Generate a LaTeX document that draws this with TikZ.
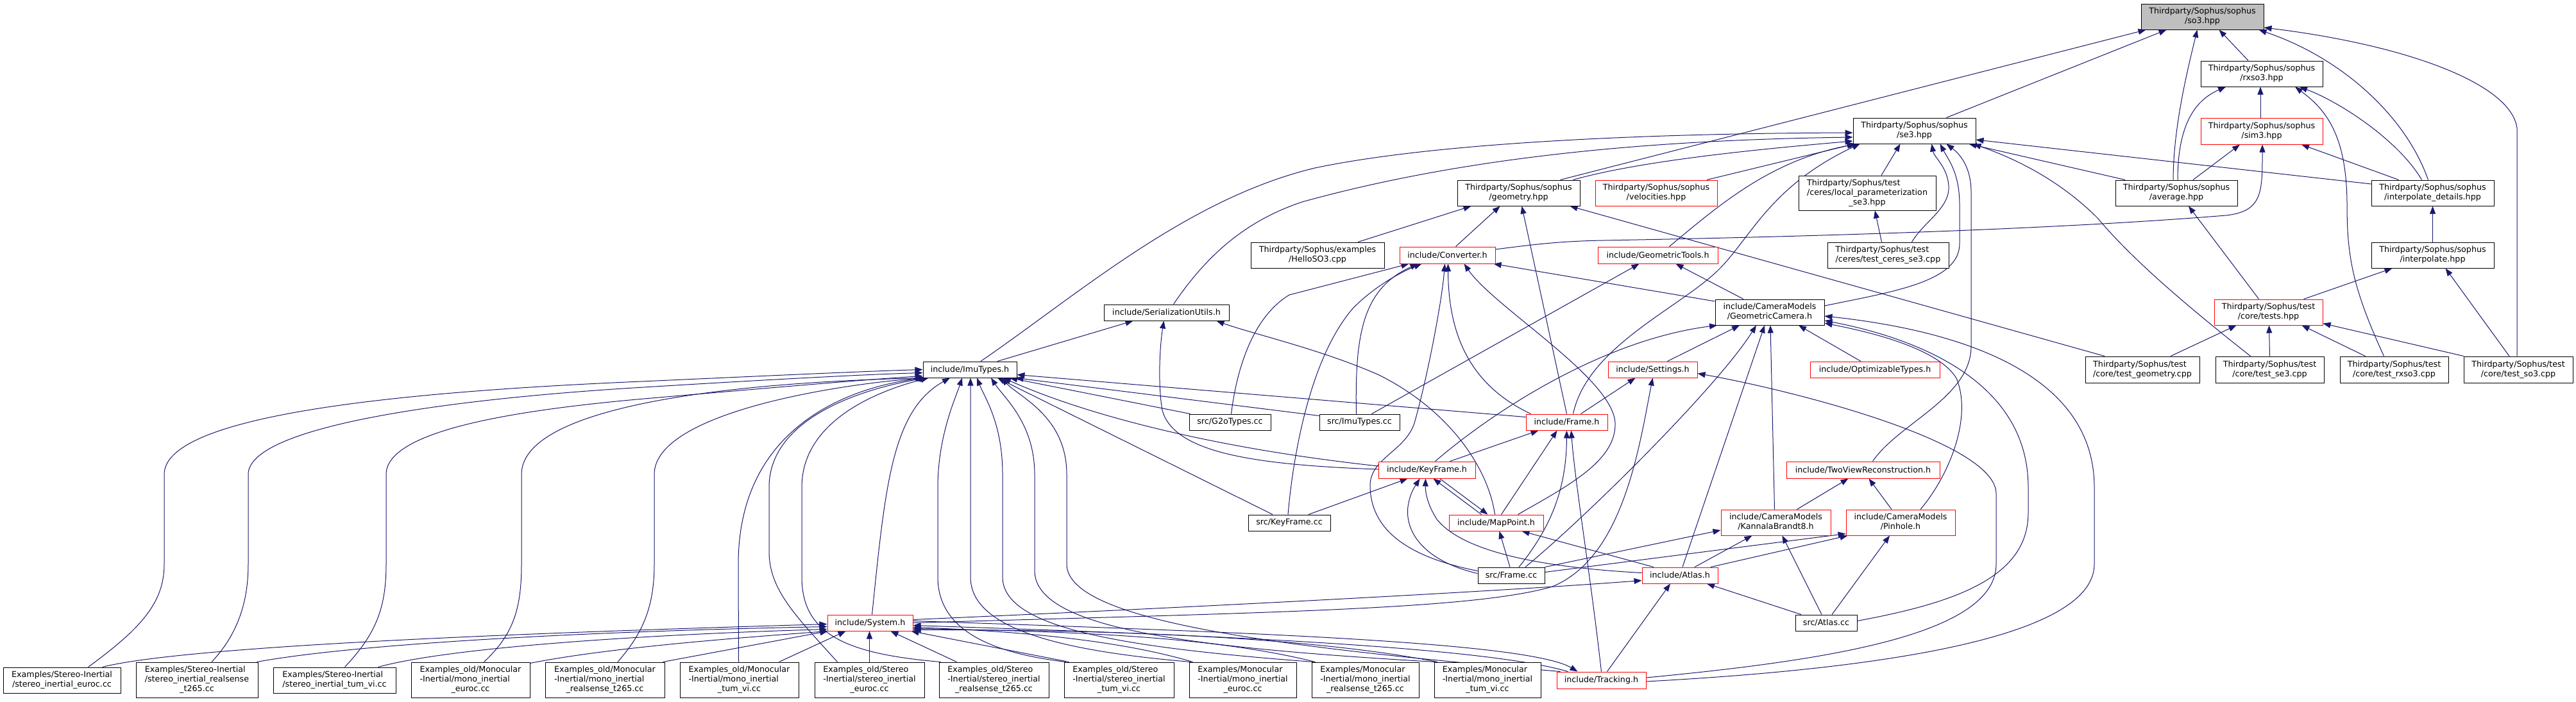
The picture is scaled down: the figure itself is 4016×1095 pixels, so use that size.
\documentclass[tikz,border=0pt]{standalone}
\usepackage{fontspec}
\setmainfont{DejaVu Sans}
\usetikzlibrary{arrows.meta,calc}
\pgfdeclarelayer{bg}
\pgfsetlayers{bg,main}
\definecolor{edgec}{HTML}{191970}
\newcommand\twol[2]{\begin{tabular}{@{}l@{}}#1\\\multicolumn{1}{@{}c@{}}{#2}\end{tabular}}
\newcommand\threel[3]{\begin{tabular}{@{}l@{}}#1\\#2\\\multicolumn{1}{@{}c@{}}{#3}\end{tabular}}
\newcommand\mknode[6]{\node[#1,minimum width=#2pt,minimum height=#3pt] (#4) at (#5) {#6};}
\tikzset{
 nd/.style={draw=black, line width=1pt, fill=white, inner sep=0pt, font=\fontsize{12.7}{15}\selectfont},
 rd/.style={nd, draw=red},
 gr/.style={nd, fill=black!25},
 e/.style={draw=edgec, line width=1pt, -{Triangle[length=12pt,width=9pt]}},
}
\begin{document}
\begin{tikzpicture}[x=1pt,y=-1pt]
\useasboundingbox (0,0) rectangle (4016,1095);
% ---------- nodes ----------
\mknode{gr}{191}{40}{so3}{3433.5,26}{\twol{Thirdparty/Sophus/sophus}{/so3.hpp}}
\mknode{nd}{190}{40}{rxso3}{3526,115}{\twol{Thirdparty/Sophus/sophus}{/rxso3.hpp}}
\mknode{rd}{190}{41}{sim3}{3526,204.5}{\twol{Thirdparty/Sophus/sophus}{/sim3.hpp}}
\mknode{nd}{191}{40}{se3}{2984.5,204}{\twol{Thirdparty/Sophus/sophus}{/se3.hpp}}
\mknode{nd}{191}{40}{geometry}{2367.5,301}{\twol{Thirdparty/Sophus/sophus}{/geometry.hpp}}
\mknode{rd}{190}{40}{velocities}{2582,301}{\twol{Thirdparty/Sophus/sophus}{/velocities.hpp}}
\mknode{nd}{214}{54}{localparam}{2911,301}{\threel{Thirdparty/Sophus/test}{/ceres/local\_parameterization}{\_se3.hpp}}
\mknode{nd}{190}{40}{average}{3393,301}{\twol{Thirdparty/Sophus/sophus}{/average.hpp}}
\mknode{nd}{191}{40}{interpdet}{3792.5,301}{\twol{Thirdparty/Sophus/sophus}{/interpolate\_details.hpp}}
\mknode{nd}{191}{40}{interp}{3792.5,398}{\twol{Thirdparty/Sophus/sophus}{/interpolate.hpp}}
\mknode{rd}{169}{40}{tests}{3536.5,487}{\twol{Thirdparty/Sophus/test}{/core/tests.hpp}}
\mknode{nd}{178}{41}{testgeom}{3340,576.5}{\twol{Thirdparty/Sophus/test}{/core/test\_geometry.cpp}}
\mknode{nd}{169}{41}{testse3}{3538.5,576.5}{\twol{Thirdparty/Sophus/test}{/core/test\_se3.cpp}}
\mknode{nd}{169}{41}{testrxso3}{3732.5,576.5}{\twol{Thirdparty/Sophus/test}{/core/test\_rxso3.cpp}}
\mknode{nd}{170}{41}{testso3}{3926,576.5}{\twol{Thirdparty/Sophus/test}{/core/test\_so3.cpp}}
\mknode{nd}{189}{40}{cerestest}{2943.5,398}{\twol{Thirdparty/Sophus/test}{/ceres/test\_ceres\_se3.cpp}}
\mknode{nd}{208}{40}{hello}{2054,398}{\twol{Thirdparty/Sophus/examples}{/HelloSO3.cpp}}
\mknode{rd}{149}{26}{converter}{2256.5,398}{include/Converter.h}
\mknode{rd}{187}{26}{geomtools}{2584.5,398}{include/GeometricTools.h}
\mknode{nd}{170}{40}{geocam}{2759,487}{\twol{include/CameraModels}{/GeometricCamera.h}}
\mknode{rd}{139}{25}{settings}{2576.5,576.5}{include/Settings.h}
\mknode{rd}{202}{25}{opttypes}{2923,576.5}{include/OptimizableTypes.h}
\mknode{nd}{195}{25}{serial}{1818.5,487.5}{include/SerializationUtils.h}
\mknode{nd}{146}{25}{imutypes}{1512,576.5}{include/ImuTypes.h}
\mknode{nd}{127}{25}{g2o}{1917.5,658.5}{src/G2oTypes.cc}
\mknode{nd}{125}{25}{imucc}{2119.5,658.5}{src/ImuTypes.cc}
\mknode{rd}{127}{25}{frameh}{2442.5,658.5}{include/Frame.h}
\mknode{rd}{151}{26}{keyframeh}{2224.5,733}{include/KeyFrame.h}
\mknode{rd}{239}{26}{twoview}{2904.5,733}{include/TwoViewReconstruction.h}
\mknode{nd}{128}{25}{kfcc}{2010,815.5}{src/KeyFrame.cc}
\mknode{rd}{147}{25}{mappoint}{2332.5,815.5}{include/MapPoint.h}
\mknode{rd}{171}{40}{kb8}{2768.5,815}{\twol{include/CameraModels}{/KannalaBrandt8.h}}
\mknode{rd}{170}{40}{pinhole}{2963,815}{\twol{include/CameraModels}{/Pinhole.h}}
\mknode{nd}{104}{25}{framecc}{2356,897.5}{src/Frame.cc}
\mknode{rd}{118}{25}{atlash}{2619,897.5}{include/Atlas.h}
\mknode{nd}{96}{25}{atlascc}{2847,971.5}{src/Atlas.cc}
\mknode{rd}{133}{25}{system}{1356.5,971.5}{include/System.h}
\mknode{rd}{139}{26}{tracking}{2496.5,1061}{include/Tracking.h}
\mknode{nd}{183}{40}{ex1}{96.5,1061}{\twol{Examples/Stereo-Inertial}{/stereo\_inertial\_euroc.cc}}
\mknode{nd}{190}{55}{ex2}{307,1060.5}{\threel{Examples/Stereo-Inertial}{/stereo\_inertial\_realsense}{\_t265.cc}}
\mknode{nd}{191}{40}{ex3}{521.5,1061}{\twol{Examples/Stereo-Inertial}{/stereo\_inertial\_tum\_vi.cc}}
\mknode{nd}{185}{55}{ex4}{733.5,1060.5}{\threel{Examples\_old/Monocular}{-Inertial/mono\_inertial}{\_euroc.cc}}
\mknode{nd}{186}{55}{ex5}{943,1060.5}{\threel{Examples\_old/Monocular}{-Inertial/mono\_inertial}{\_realsense\_t265.cc}}
\mknode{nd}{185}{55}{ex6}{1152.5,1060.5}{\threel{Examples\_old/Monocular}{-Inertial/mono\_inertial}{\_tum\_vi.cc}}
\mknode{nd}{171}{55}{ex7}{1355.5,1060.5}{\threel{Examples\_old/Stereo}{-Inertial/stereo\_inertial}{\_euroc.cc}}
\mknode{nd}{171}{55}{ex8}{1549.5,1060.5}{\threel{Examples\_old/Stereo}{-Inertial/stereo\_inertial}{\_realsense\_t265.cc}}
\mknode{nd}{171}{55}{ex9}{1744.5,1060.5}{\threel{Examples\_old/Stereo}{-Inertial/stereo\_inertial}{\_tum\_vi.cc}}
\mknode{nd}{167}{55}{ex10}{1937.5,1060.5}{\threel{Examples/Monocular}{-Inertial/mono\_inertial}{\_euroc.cc}}
\mknode{nd}{167}{55}{ex11}{2128.5,1060.5}{\threel{Examples/Monocular}{-Inertial/mono\_inertial}{\_realsense\_t265.cc}}
\mknode{nd}{166}{55}{ex12}{2319,1060.5}{\threel{Examples/Monocular}{-Inertial/mono\_inertial}{\_tum\_vi.cc}}
% ---------- edges ----------
\begin{pgfonlayer}{bg}
\fill[white] (0,0) rectangle (4016,1095);
% so3
\draw[e] ($(geometry.north)+(65,0)$) -- ($(so3.south)+(-88,0)$);
\draw[e] ($(se3.north)+(50,0)$) -- ($(so3.south)+(-56,0)$);
\draw[e] ($(average.north)+(-5,0)$) .. controls (3388,200) and (3410,110) .. ($(so3.south)+(-8,0)$);
\draw[e] ($(rxso3.north)+(-21,0)$) -- ($(so3.south)+(26,0)$);
\draw[e] ($(interpdet.north)+(-7,0)$) .. controls (3750,180) and (3650,90) .. ($(so3.south)+(88,0)$);
\draw[e] ($(testso3.north)+(-2,0)$) -- (3924,200) .. controls (3915,130) and (3750,70) .. ($(so3.east)+(0,17)$);
% rxso3
\draw[e] ($(average.north)+(2,0)$) .. controls (3395,190) and (3425,155) .. ($(rxso3.south)+(-56,0)$);
\draw[e] ($(sim3.north)+(-2,0)$) -- ($(rxso3.south)+(-2,0)$);
\draw[e] ($(testrxso3.north)+(-16,0)$) .. controls (3668,450) and (3659,400) .. (3659,320) .. controls (3659,210) and (3625,170) .. ($(rxso3.south)+(52,0)$);
\draw[e] ($(interpdet.north)+(-17,0)$) .. controls (3740,220) and (3650,160) .. ($(rxso3.south)+(59,0)$);
% sim3
\draw[e] ($(average.north)+(26,0)$) -- ($(sim3.south)+(-34,0)$);
\draw[e] ($(interpdet.north)+(-53,0)$) -- ($(sim3.south)+(62,0)$);
\draw[e] ($(converter.east)+(0,-9)$) .. controls (2400,380) and (2440,376) .. (2500,375) .. controls (3000,366) and (3300,350) .. (3470,336) .. controls (3527,330) and (3527,300) .. ($(sim3.south)+(1,0)$);
% se3
\draw[e] ($(imutypes.north)+(17,0)$) .. controls (1680,460) and (1850,310) .. (2050,262) .. controls (2250,220) and (2600,208) .. ($(se3.west)+(0,3)$);
\draw[e] ($(serial.north)+(11,0)$) .. controls (1880,400) and (1940,345) .. (2030,315) .. controls (2300,240) and (2600,218) .. ($(se3.west)+(0,10)$);
\draw[e] ($(geometry.north)+(85,0)$) .. controls (2560,250) and (2750,232) .. ($(se3.west)+(0,16)$);
\draw[e] ($(velocities.north)+(79,0)$) -- ($(se3.south)+(-93,0)$);
\draw[e] ($(geomtools.north)+(18,0)$) .. controls (2680,320) and (2760,250) .. ($(se3.south)+(-90,0)$);
\draw[e] ($(frameh.north)+(10,0)$) .. controls (2475,540) and (2620,480) .. (2680,420) .. controls (2730,370) and (2760,290) .. ($(se3.south)+(-85,0)$);
\draw[e] ($(localparam.north)+(22,0)$) -- ($(se3.south)+(-22,0)$);
\draw[e] ($(cerestest.north)+(37,0)$) .. controls (3000,345) and (3040,325) .. (3038,290) .. controls (3036,260) and (3015,245) .. ($(se3.south)+(27,0)$);
\draw[e] ($(geocam.east)+(0,-10)$) .. controls (2950,455) and (3055,440) .. (3055,380) -- (3055,320) .. controls (3055,270) and (3038,250) .. ($(se3.south)+(40,0)$);
\draw[e] ($(twoview.north)+(15,0)$) .. controls (2960,660) and (3073,620) .. (3073,540) -- (3073,300) .. controls (3073,260) and (3055,240) .. ($(se3.south)+(50,0)$);
\draw[e] ($(average.north)+(-80,0)$) -- ($(se3.south)+(85,0)$);
\draw[e] ($(testse3.north)+(-30,0)$) .. controls (3400,470) and (3320,400) .. (3270,340) .. controls (3200,270) and (3120,240) .. ($(se3.south)+(92,0)$);
\draw[e] ($(interpdet.west)+(0,-14)$) -- ($(se3.east)+(0,14)$);
% geometry
\draw[e] ($(hello.north)+(63,0)$) -- ($(geometry.south)+(-74,0)$);
\draw[e] ($(converter.north)+(13,0)$) -- ($(geometry.south)+(-29,0)$);
\draw[e] (frameh.north) -- ($(geometry.south)+(5,0)$);
\draw[e] ($(testgeom.north)+(-59,0)$) -- ($(geometry.south)+(80,0)$);
% converter
\draw[e] ($(geocam.west)+(0,-17)$) -- ($(converter.south)+(72,0)$);
\draw[e] ($(mappoint.north)+(34,0)$) .. controls (2440,760) and (2520,720) .. (2518,660) .. controls (2515,590) and (2330,480) .. ($(converter.south)+(26,0)$);
\draw[e] ($(frameh.north)+(-56,0)$) .. controls (2290,600) and (2258,520) .. ($(converter.south)+(1,0)$);
\draw[e] ($(framecc.west)+(0,-7)$) .. controls (2200,870) and (2138,830) .. (2136,760) .. controls (2134,715) and (2190,705) .. (2205,660) .. controls (2225,590) and (2248,470) .. ($(converter.south)+(-4,0)$);
\draw[e] ($(imucc.north)+(-5,0)$) .. controls (2112,520) and (2125,450) .. ($(converter.south)+(-46,0)$);
\draw[e] ($(kfcc.north)+(-2,0)$) .. controls (2015,720) and (2040,560) .. (2110,480) .. controls (2150,440) and (2195,420) .. ($(converter.south)+(-40,0)$);
\draw[e] ($(g2o.north)+(2,0)$) .. controls (1930,560) and (1960,490) .. (2010,460) -- ($(converter.south)+(-60,0)$);
% geomtools
\draw[e] ($(imucc.north)+(19,0)$) -- ($(geomtools.south)+(-29,0)$);
\draw[e] ($(geocam.north)+(-41,0)$) -- ($(geomtools.south)+(28,0)$);
% geocam
\draw[e] ($(settings.north)+(23,0)$) -- ($(geocam.south)+(-47,0)$);
\draw[e] ($(opttypes.north)+(-22,0)$) -- ($(geocam.south)+(45,0)$);
\draw[e] ($(keyframeh.north)+(13,0)$) .. controls (2330,640) and (2500,530) .. ($(geocam.south)+(-82,0)$);
\draw[e] ($(framecc.north)+(22,0)$) .. controls (2480,800) and (2680,600) .. ($(geocam.south)+(-21,0)$);
\draw[e] ($(atlash.north)+(4,0)$) -- ($(geocam.south)+(-8,0)$);
\draw[e] ($(kb8.north)+(-2,0)$) -- ($(geocam.south)+(1,0)$);
\draw[e] ($(tracking.east)+(0,2)$) .. controls (2900,1045) and (3265,1000) .. (3265,880) -- (3265,760) .. controls (3265,560) and (3000,510) .. ($(geocam.east)+(0,6)$);
\draw[e] ($(atlascc.east)+(0,-3)$) .. controls (3050,940) and (3162,900) .. (3162,800) -- (3162,760) .. controls (3162,600) and (3000,530) .. ($(geocam.east)+(0,13)$);
\draw[e] ($(pinhole.north)+(31,0)$) .. controls (3040,740) and (3075,650) .. (3050,590) .. controls (3020,540) and (2900,515) .. ($(geocam.east)+(0,17)$);
% settings
\draw[e] ($(frameh.north)+(22,0)$) -- ($(settings.south)+(-27,0)$);
\draw[e] (system.east) .. controls (2000,955) and (2300,950) .. (2420,915) .. controls (2530,870) and (2555,700) .. (settings.south);
\draw[e] ($(tracking.east)+(0,-4)$) .. controls (2850,1030) and (3112,990) .. (3112,880) -- (3112,770) .. controls (3112,690) and (2800,610) .. ($(settings.east)+(0,6)$);
% frame.h
\draw[e] ($(keyframeh.north)+(36,0)$) -- ($(frameh.south)+(-44,0)$);
\draw[e] ($(mappoint.north)+(8,0)$) -- ($(frameh.south)+(-15,0)$);
\draw[e] ($(framecc.north)+(12,0)$) .. controls (2420,820) and (2442,760) .. (frameh.south);
\draw[e] (tracking.north) .. controls (2480,900) and (2455,750) .. ($(frameh.south)+(7,0)$);
% keyframe.h
\draw[e] ($(kfcc.north)+(30,0)$) -- ($(keyframeh.south)+(-30,0)$);
\draw[e] ($(framecc.west)+(0,-3)$) .. controls (2220,875) and (2190,830) .. (2195,790) .. controls (2198,770) and (2205,760) .. ($(keyframeh.south)+(-11,0)$);
\draw[e] ($(atlash.west)+(0,-4)$) .. controls (2400,885) and (2280,860) .. (2240,810) .. controls (2224,785) and (2222,765) .. ($(keyframeh.south)+(-2,0)$);
\draw[e] ($(mappoint.north)+(-23,0)$) -- ($(keyframeh.south)+(10,0)$);
\draw[e] ($(keyframeh.south)+(20,0)$) -- ($(mappoint.north)+(-13,0)$);
% mappoint
\draw[e] ($(framecc.north)+(-2,0)$) -- ($(mappoint.south)+(5,0)$);
\draw[e] ($(atlash.north)+(-41,0)$) -- ($(mappoint.south)+(40,0)$);
\draw[e] ($(mappoint.north)+(-2,0)$) .. controls (2320,730) and (2260,640) .. (2150,585) .. controls (2060,545) and (1950,520) .. ($(serial.south)+(78,0)$);
% keyframe -> imutypes, serial
\draw[e] ($(keyframeh.west)+(0,-6)$) .. controls (1900,700) and (1700,650) .. ($(imutypes.south)+(52,0)$);
\draw[e] ($(keyframeh.west)+(0,-1)$) .. controls (1950,725) and (1830,705) .. (1812,640) .. controls (1805,600) and (1808,540) .. ($(serial.south)+(-4,0)$);
% imutypes from others
\draw[e] ($(frameh.west)+(0,-8)$) -- ($(imutypes.east)+(0,8)$);
\draw[e] ($(imucc.west)+(0,-10)$) -- ($(imutypes.south east)+(-2,0)$);
\draw[e] ($(g2o.north)+(-62,0)$) -- ($(imutypes.south)+(62,0)$);
\draw[e] ($(kfcc.north)+(-26,0)$) -- ($(imutypes.south)+(43,0)$);
\draw[e] ($(imutypes.north)+(43,0)$) -- ($(serial.south)+(-52,0)$);
% atlas
\draw[e] ($(system.east)+(0,-5)$) .. controls (1800,950) and (2300,925) .. ($(atlash.west)+(0,8)$);
\draw[e] ($(tracking.north)+(9,0)$) -- ($(atlash.south)+(-15,0)$);
\draw[e] ($(atlascc.north)+(-39,0)$) -- ($(atlash.south)+(42,0)$);
% camera models
\draw[e] ($(atlash.north)+(23,0)$) -- ($(kb8.south)+(-37,0)$);
\draw[e] ($(atlash.north)+(48,0)$) -- ($(pinhole.south west)+(3,0)$);
\draw[e] (framecc.north east) -- ($(kb8.west)+(0,12)$);
\draw[e] ($(framecc.east)+(0,-5)$) -- ($(pinhole.south west)+(0,-3)$);
\draw[e] ($(atlascc.north)+(-7,0)$) -- ($(kb8.south)+(10,0)$);
\draw[e] ($(atlascc.north)+(9,0)$) -- ($(pinhole.south)+(-17,0)$);
\draw[e] ($(kb8.north)+(33,0)$) -- ($(twoview.south)+(-23,0)$);
\draw[e] ($(pinhole.north)+(-14,0)$) -- ($(twoview.south)+(9,0)$);
% sophus tests
\draw[e] (interp.north) -- (interpdet.south);
\draw[e] ($(tests.north)+(55,0)$) -- ($(interp.south)+(-63,0)$);
\draw[e] ($(tests.north)+(-15,0)$) -- ($(average.south)+(19,0)$);
\draw[e] ($(testgeom.north)+(44,0)$) -- ($(tests.south)+(-50,0)$);
\draw[e] (testse3.north) -- ($(tests.south)+(1,0)$);
\draw[e] ($(testrxso3.north)+(-45,0)$) -- ($(tests.south)+(52,0)$);
\draw[e] ($(testso3.north)+(-85,0)$) -- ($(tests.south east)+(0,-3)$);
\draw[e] ($(testso3.north)+(-14,0)$) -- ($(interp.south)+(20,0)$);
\draw[e] ($(cerestest.north)+(-10,0)$) -- ($(localparam.south)+(12,0)$);
% system / tracking
\draw[e] ($(system.north)+(3,0)$) .. controls (1380,760) and (1390,640) .. ($(imutypes.south)+(-31,0)$);
\draw[e] ($(system.east)+(0,-3)$) .. controls (1900,985) and (2380,1000) .. ($(tracking.north)+(-37,0)$);
\draw[e] ($(tracking.north)+(-52,0)$) .. controls (2300,1005) and (1800,988) .. ($(system.east)+(0,4)$);
\draw[e] ($(tracking.north)+(-64,0)$) .. controls (2000,1010) and (1663,970) .. (1663,880) -- (1663,740) .. controls (1663,650) and (1590,620) .. ($(imutypes.south)+(49,0)$);
% examples -> imutypes
\draw[e] ($(ex1.north)+(41,0)$) .. controls (220,980) and (256,940) .. (256,880) -- (256,740) .. controls (256,650) and (600,612) .. (1000,595) .. controls (1200,586) and (1350,579) .. (imutypes.west);
\draw[e] ($(ex2.north)+(23,0)$) .. controls (370,990) and (387,940) .. (387,880) -- (387,740) .. controls (387,665) and (700,622) .. (1004,604) .. controls (1200,592) and (1350,584) .. ($(imutypes.west)+(0,5)$);
\draw[e] ($(ex3.north)+(16,0)$) .. controls (585,990) and (602,950) .. (602,880) -- (602,740) .. controls (602,672) and (800,640) .. (1004,622) .. controls (1200,605) and (1350,592) .. ($(imutypes.west)+(0,10)$);
\draw[e] ($(ex4.north)+(21,0)$) .. controls (800,990) and (813,950) .. (813,880) -- (813,740) .. controls (813,640) and (1100,598) .. ($(imutypes.south west)+(1,0)$);
\draw[e] ($(ex5.north)+(20,0)$) .. controls (1000,990) and (1020,950) .. (1020,880) -- (1020,740) .. controls (1020,645) and (1300,600) .. ($(imutypes.south west)+(3,0)$);
\draw[e] ($(ex6.north)+(-1,0)$) -- (1151,880) .. controls (1151,650) and (1350,600) .. ($(imutypes.south west)+(5,0)$);
\draw[e] ($(ex7.north)+(-50,0)$) .. controls (1240,960) and (1199,920) .. (1199,860) -- (1199,760) .. controls (1199,650) and (1350,605) .. ($(imutypes.south west)+(7,0)$);
\draw[e] ($(ex8.north)+(-83,0)$) .. controls (1320,1020) and (1250,990) .. (1250,900) -- (1250,760) .. controls (1250,660) and (1360,612) .. ($(imutypes.south west)+(9,0)$);
\draw[e] ($(ex9.north)+(-83,0)$) .. controls (1560,1020) and (1462,990) .. (1462,900) -- (1462,760) .. controls (1462,680) and (1490,620) .. ($(imutypes.south)+(-12,0)$);
\draw[e] ($(ex10.north)+(-81,0)$) .. controls (1650,1015) and (1513,980) .. (1513,900) -- ($(imutypes.south)+(1,0)$);
\draw[e] ($(ex11.north)+(-81,0)$) .. controls (1750,1010) and (1563,980) .. (1563,900) -- (1563,740) .. controls (1563,660) and (1535,620) .. ($(imutypes.south)+(11,0)$);
\draw[e] ($(ex12.north)+(-81,0)$) .. controls (1850,1010) and (1613,980) .. (1613,890) -- (1613,740) .. controls (1613,660) and (1565,620) .. ($(imutypes.south)+(33,0)$);
% examples -> system
\draw[e] ($(ex1.north)+(63,0)$) .. controls (300,1005) and (900,985) .. ($(system.west)+(0,2)$);
\draw[e] ($(ex2.north east)+(-2,0)$) .. controls (550,1005) and (900,985) .. ($(system.west)+(0,6)$);
\draw[e] ($(ex3.north)+(68,0)$) .. controls (700,1010) and (1000,990) .. ($(system.west)+(0,10)$);
\draw[e] ($(ex4.north east)+(0,2)$) .. controls (950,1010) and (1150,995) .. ($(system.south west)+(1,0)$);
\draw[e] ($(ex5.north east)+(-3,0)$) -- ($(system.south west)+(1,0)$);
\draw[e] ($(ex6.north)+(62,0)$) -- ($(system.south)+(-38,0)$);
\draw[e] (ex7.north) -- ($(system.south)+(-1,0)$);
\draw[e] ($(ex8.north)+(-58,0)$) -- ($(system.south)+(32,0)$);
\draw[e] ($(ex9.north)+(-78,0)$) -- ($(system.south east)+(-3,0)$);
\draw[e] ($(ex10.north)+(-78,0)$) .. controls (1750,1000) and (1600,985) .. ($(system.east)+(0,7)$);
\draw[e] ($(ex11.north)+(-78,0)$) .. controls (1900,995) and (1700,985) .. ($(system.east)+(0,9)$);
\draw[e] ($(ex12.north)+(-78,0)$) .. controls (2050,995) and (1750,982) .. ($(system.east)+(0,11)$);
\end{pgfonlayer}
\end{tikzpicture}
\end{document}
